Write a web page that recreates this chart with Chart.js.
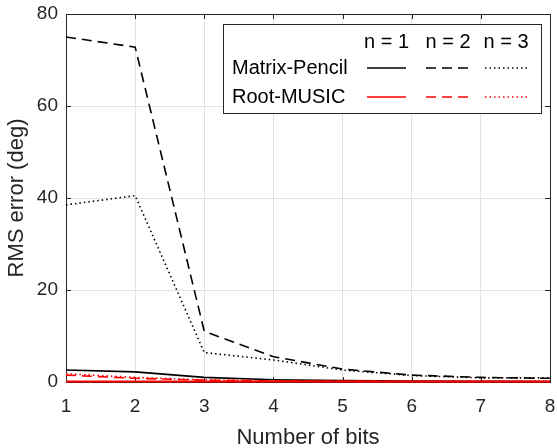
<!DOCTYPE html>
<html>
<head>
<meta charset="utf-8">
<script src="https://cdn.jsdelivr.net/npm/chart.js@4"></script>
<style>
html,body{margin:0;padding:0;background:#fff;}
#wrap{width:557px;height:448px;}
</style>
</head>
<body>
<div id="wrap"><canvas id="c" width="557" height="448"></canvas></div>
<script>
const bits = [1, 2, 3, 4, 5, 6, 7, 8];
const mpN1 = [2.6, 2.2, 1.0, 0.5, 0.3, 0.2, 0.15, 0.1];
const mpN2 = [75.0, 72.8, 11.0, 5.5, 2.8, 1.5, 1.0, 0.8];
const mpN3 = [38.5, 40.5, 6.4, 4.8, 2.6, 1.4, 0.9, 0.9];
const rmN1 = [0.1, 0.1, 0.1, 0.1, 0.1, 0.1, 0.1, 0.1];
const rmN2 = [1.5, 0.8, 0.4, 0.2, 0.15, 0.1, 0.1, 0.1];
const rmN3 = [1.8, 1.0, 0.5, 0.25, 0.15, 0.1, 0.1, 0.1];
const yTicks = [0, 20, 40, 60, 80];
const legendHeaders = ['n = 1', 'n = 2', 'n = 3'];
const legendRows = ['Matrix-Pencil', 'Root-MUSIC'];

const FONT = '"Liberation Sans", Arial, sans-serif';
const TXT = '#262626';
const dashes = [[], [10, 6], [1.5, 3]];

function pts(arr) { return bits.map((b, i) => ({x: b, y: arr[i]})); }
function ds(arr, color, dash, width) {
  return {data: pts(arr), borderColor: color, borderWidth: width, borderDash: dash,
    pointRadius: 0, fill: false, tension: 0, clip: 4};
}

const framePlugin = {
  id: 'frame',
  beforeDatasetsDraw(chart) {
    const {ctx, chartArea: a, scales} = chart;
    ctx.save();
    ctx.strokeStyle = TXT;
    ctx.lineWidth = 1;
    ctx.strokeRect(Math.round(a.left) + 0.5, Math.round(a.top) + 0.5,
      Math.round(a.right - a.left), Math.round(a.bottom - a.top));
    const tl = 5;
    ctx.beginPath();
    bits.forEach(b => {
      const x = Math.round(scales.x.getPixelForValue(b)) + 0.5;
      ctx.moveTo(x, a.bottom); ctx.lineTo(x, a.bottom - tl);
      ctx.moveTo(x, a.top); ctx.lineTo(x, a.top + tl);
    });
    yTicks.forEach(v => {
      const y = Math.round(scales.y.getPixelForValue(v)) + 0.5;
      ctx.moveTo(a.left, y); ctx.lineTo(a.left + tl, y);
      ctx.moveTo(a.right, y); ctx.lineTo(a.right - tl, y);
    });
    ctx.stroke();
    ctx.restore();
  },
  afterDatasetsDraw(chart) {
    const {ctx} = chart;
    ctx.save();
    const bx = 223.5, by = 24.5, bw = 318, bh = 89;
    ctx.fillStyle = '#fff';
    ctx.fillRect(bx, by, bw, bh);
    ctx.strokeStyle = TXT;
    ctx.lineWidth = 1;
    ctx.strokeRect(bx, by, bw, bh);
    ctx.fillStyle = '#000';
    ctx.font = '20px ' + FONT;
    ctx.textBaseline = 'middle';
    ctx.textAlign = 'center';
    const colX = [[367, 406], [426, 470], [485, 527]];
    legendHeaders.forEach((h, i) => {
      ctx.fillText(h, (colX[i][0] + colX[i][1]) / 2, 42);
    });
    ctx.textAlign = 'left';
    const rowY = [68, 97];
    const rowCol = ['#000000', '#ff0000'];
    legendRows.forEach((r, j) => {
      ctx.fillStyle = '#000';
      ctx.fillText(r, 232, rowY[j]);
      colX.forEach((c, i) => {
        ctx.beginPath();
        ctx.strokeStyle = rowCol[j];
        ctx.lineWidth = 1.6;
        ctx.setLineDash(dashes[i]);
        ctx.moveTo(c[0], rowY[j]); ctx.lineTo(c[1], rowY[j]);
        ctx.stroke();
      });
    });
    ctx.restore();
  }
};

new Chart(document.getElementById('c'), {
  type: 'line',
  data: {
    datasets: [
      ds(rmN1, '#ff0000', dashes[0], 2),
      ds(rmN2, '#ff0000', dashes[1], 1.6),
      ds(rmN3, '#ff0000', dashes[2], 1.6),
      ds(mpN1, '#000000', dashes[0], 1.6),
      ds(mpN2, '#000000', dashes[1], 1.6),
      ds(mpN3, '#000000', dashes[2], 1.6)
    ]
  },
  options: {
    responsive: false,
    animation: false,
    devicePixelRatio: 1,
    layout: {padding: {top: 14, right: 7, left: 0, bottom: 0}},
    plugins: {legend: {display: false}, tooltip: {enabled: false}},
    scales: {
      x: {
        type: 'linear', min: 1, max: 8,
        afterBuildTicks: s => { s.ticks = bits.map(v => ({value: v})); },
        afterFit: s => { s.height = 66; s.paddingLeft = 0; s.paddingRight = 0; },
        grid: {color: '#e3e3e3', drawTicks: false},
        border: {display: false},
        ticks: {color: TXT, font: {family: FONT, size: 19}, padding: 13, maxRotation: 0},
        title: {display: true, text: 'Number of bits', color: TXT,
          font: {family: FONT, size: 22}, padding: {top: 6, bottom: -3}}
      },
      y: {
        min: 0, max: 80,
        afterBuildTicks: s => { s.ticks = yTicks.map(v => ({value: v})); },
        afterFit: s => { s.width = 66; s.paddingTop = 0; s.paddingBottom = 0; },
        grid: {color: '#e3e3e3', drawTicks: false},
        border: {display: false},
        ticks: {color: TXT, font: {family: FONT, size: 19}, padding: 8},
        title: {display: true, text: 'RMS error (deg)', color: TXT,
          font: {family: FONT, size: 22}, padding: {top: 4, bottom: 0}}
      }
    }
  },
  plugins: [framePlugin]
});
</script>
</body>
</html>
